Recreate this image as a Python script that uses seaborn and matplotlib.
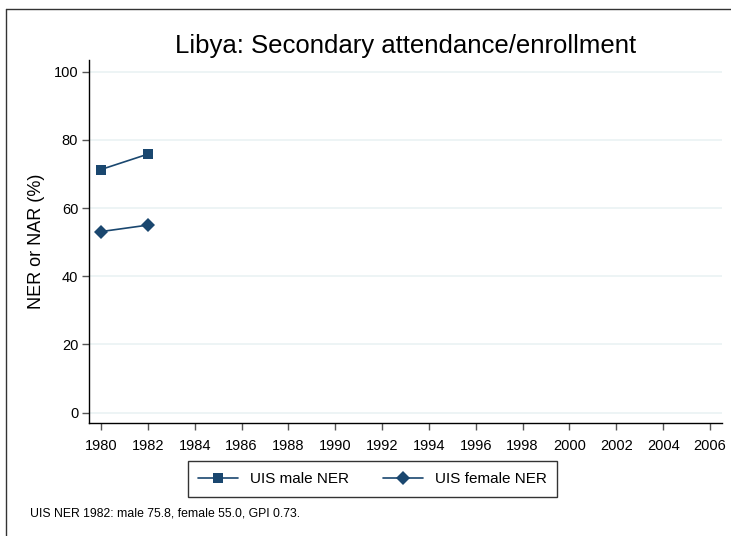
import pandas as pd
import matplotlib
matplotlib.use("Agg")
import matplotlib.pyplot as plt
from matplotlib.lines import Line2D
import seaborn as sns

# values
years = [1980, 1982]
male_ner = [71.3, 75.8]
female_ner = [53.1, 55.0]
series_names = ["UIS male NER", "UIS female NER"]
x_ticks = list(range(1980, 2007, 2))
y_ticks = [0, 20, 40, 60, 80, 100]
footnote = "UIS NER 1982: male 75.8, female 55.0, GPI 0.73."

navy = "#1a476f"
grid_col = "#eaf2f3"

sns.set_style("white")
plt.rcParams["font.family"] = ["Liberation Sans", "DejaVu Sans"]
plt.rcParams["text.color"] = "black"
plt.rcParams["axes.labelcolor"] = "black"
plt.rcParams["xtick.color"] = "black"
plt.rcParams["ytick.color"] = "black"

df = pd.DataFrame({
    "year": years * 2,
    "value": male_ner + female_ner,
    "series": [series_names[0]] * len(years) + [series_names[1]] * len(years),
})

fig = plt.figure(figsize=(7.31, 5.36), dpi=100)
ax = fig.add_axes([89.3 / 731, 1 - 423.3 / 536, (721.7 - 89.3) / 731, (423.3 - 60) / 536])

sns.lineplot(data=df, x="year", y="value", hue="series", style="series",
             hue_order=series_names, style_order=series_names,
             palette=[navy, navy], markers={series_names[0]: "s", series_names[1]: "D"},
             dashes=False, markersize=7.2, markeredgewidth=0, linewidth=1.2,
             ax=ax, legend=True)

ax.set_xlim(1979.5, 2006.5)
ax.set_ylim(-3.1, 103.4)
ax.set_xticks(x_ticks)
ax.set_yticks(y_ticks)
ax.set_xticklabels([str(t) for t in x_ticks], fontsize=10.5)
ax.set_yticklabels([str(t) for t in y_ticks], fontsize=10.5)
ax.tick_params(axis="both", direction="out", length=5, width=1, color="#555555", pad=3,
               bottom=True, left=True, labelcolor="black")
ax.tick_params(axis="x", pad=6)
ax.yaxis.grid(True, color=grid_col, linewidth=1.2)
ax.set_axisbelow(True)
for side in ["top", "right"]:
    ax.spines[side].set_visible(False)
for side in ["left", "bottom"]:
    ax.spines[side].set_color("black")
    ax.spines[side].set_linewidth(1)

ax.set_xlabel("")
ax.set_ylabel("NER or NAR (%)", fontsize=13, labelpad=6, color="black")
ax.set_title("Libya: Secondary attendance/enrollment", fontsize=18.5, pad=5, color="black")

handles, labels = ax.get_legend_handles_labels()
ax.get_legend().remove()
leg = fig.legend(handles, labels, loc="center", ncol=2,
                 bbox_to_anchor=(372.5 / 731, 1 - 479 / 536),
                 fontsize=11, frameon=True, fancybox=False, handlelength=2.6,
                 columnspacing=2.2, borderpad=0.7, handletextpad=0.8)
leg.get_frame().set_edgecolor("black")
leg.get_frame().set_linewidth(1)

fig.text(30 / 731, 1 - 513 / 536, footnote, fontsize=8.8, va="center", ha="left")

# outer frame (top and left edges visible in the reference)
fig.add_artist(Line2D([6 / 731, 1], [1 - 9 / 536, 1 - 9 / 536], transform=fig.transFigure,
                      color="#333333", linewidth=1))
fig.add_artist(Line2D([6 / 731, 6 / 731], [0, 1 - 9 / 536], transform=fig.transFigure,
                      color="#333333", linewidth=1))

fig.savefig("out.png", dpi=100, facecolor="white")
